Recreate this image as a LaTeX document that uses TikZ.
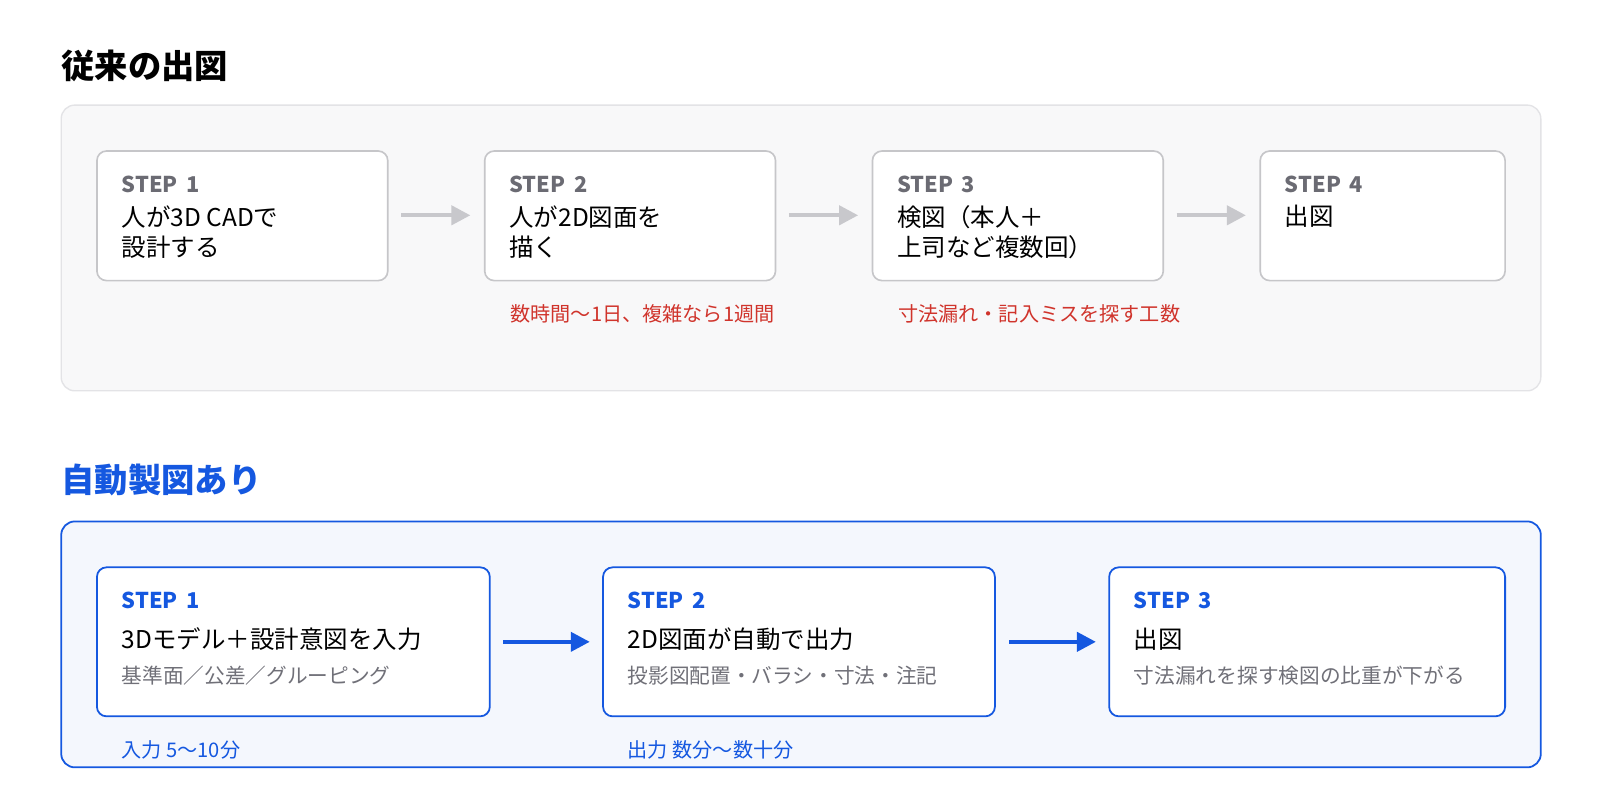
\documentclass[tikz,border=0pt]{standalone}
\usepackage{fontspec}
\setmainfont{Noto Sans CJK JP}
\usetikzlibrary{arrows.meta}
\definecolor{pgray}{HTML}{F8F8F9}
\definecolor{pborder}{HTML}{E3E3E6}
\definecolor{bgray}{HTML}{C6C6C9}
\definecolor{sgray}{HTML}{6B6B73}
\definecolor{nred}{HTML}{D0342C}
\definecolor{blu}{HTML}{1558E0}
\definecolor{pblue}{HTML}{F4F7FD}
\definecolor{agray}{HTML}{C8C8CC}
\definecolor{subg}{HTML}{707078}
\begin{document}
\begin{tikzpicture}[x=0.75pt,y=-0.75pt,
  title/.style={anchor=west,font=\fontsize{24.5}{28}\selectfont\bfseries,inner sep=0},
  gbox/.style={draw=bgray,line width=1.2pt,fill=white,rounded corners=7pt},
  bbox/.style={draw=blu,line width=1.3pt,fill=white,rounded corners=7pt},
  gstep/.style={anchor=west,inner sep=0,text=sgray,font=\fontsize{16}{18}\selectfont\bfseries},
  bstep/.style={anchor=west,inner sep=0,text=blu,font=\fontsize{16}{18}\selectfont\bfseries},
  main/.style={anchor=north west,inner sep=0,align=left,font=\fontsize{18}{22}\selectfont},
  sub/.style={anchor=west,inner sep=0,text=subg,font=\fontsize{15.2}{17}\selectfont},
  rnote/.style={anchor=west,inner sep=0,text=nred,font=\fontsize{14.8}{17}\selectfont},
  bnote/.style={anchor=west,inner sep=0,text=blu,font=\fontsize{14.8}{17}\selectfont},
  garr/.style={-{Triangle[length=14pt,width=14pt]},draw=agray,line width=3pt},
  barr/.style={-{Triangle[length=14pt,width=14pt]},draw=blu,line width=3pt}]
\useasboundingbox (0,0) rectangle (1568,784);
\fill[white] (0,0) rectangle (1568,784);
% top
\node[title] (t1) at (60,65) {従来の出図};
\draw[draw=pborder,fill=pgray,line width=1pt,rounded corners=10pt] (60,103) rectangle (1510,383);
\foreach \i/\x/\w in {1/95/285,2/475/285,3/855/285,4/1235/240}{
  \draw[gbox] (\x,148) rectangle ++(\w,127);
  \node[gstep] (gs\i) at (\x+24,181) {STEP\, \i};
}
\node[main] (g1) at (119,201) {人が3D CADで\\設計する};
\node[main] (g2) at (499,201) {人が2D図面を\\描く};
\node[main] (g3) at (879,201) {検図（本人＋\\上司など複数回）};
\node[main] (g4) at (1259,201) {出図};
\coordinate (a1s) at (393,211); \coordinate (a1e) at (461,211);
\coordinate (a2s) at (773,211); \coordinate (a2e) at (841,211);
\coordinate (a3s) at (1153,211); \coordinate (a3e) at (1221,211);
\draw[garr] (a1s) -- (a1e);
\draw[garr] (a2s) -- (a2e);
\draw[garr] (a3s) -- (a3e);
\node[rnote] (n1) at (500,308) {数時間〜1日、複雑なら1週間};
\node[rnote] (n2) at (880,308) {寸法漏れ・記入ミスを探す工数};
% bottom
\node[title,text=blu] (t2) at (60,470) {自動製図あり};
\draw[draw=blu,fill=pblue,line width=1.3pt,rounded corners=10pt] (60,511) rectangle (1510,752);
\foreach \i/\x/\w in {1/95/385,2/591/384,3/1087/388}{
  \draw[bbox] (\x,556) rectangle ++(\w,146);
  \node[bstep] (bs\i) at (\x+24,588) {STEP\, \i};
}
\node[main,anchor=west] (b1) at (119,626) {3Dモデル＋設計意図を入力};
\node[main,anchor=west] (b2) at (615,626) {2D図面が自動で出力};
\node[main,anchor=west] (b3) at (1111,626) {出図};
\node[sub] (s1) at (119,662) {基準面／公差／グルーピング};
\node[sub] (s2) at (615,662) {投影図配置・バラシ・寸法・注記};
\node[sub] (s3) at (1111,662) {寸法漏れを探す検図の比重が下がる};
\coordinate (b1s) at (493,629); \coordinate (b1e) at (578,629);
\coordinate (b2s) at (989,629); \coordinate (b2e) at (1074,629);
\draw[barr] (b1s) -- (b1e);
\draw[barr] (b2s) -- (b2e);
\node[bnote] (m1) at (119,735) {入力 5〜10分};
\node[bnote] (m2) at (615,735) {出力 数分〜数十分};
\end{tikzpicture}
\end{document}
